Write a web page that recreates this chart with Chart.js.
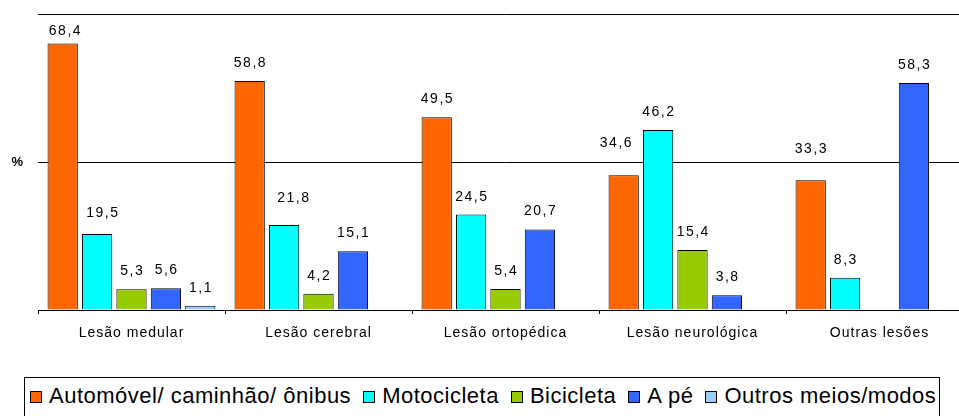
<!DOCTYPE html>
<html>
<head>
<meta charset="utf-8">
<script src="https://cdn.jsdelivr.net/npm/chart.js@4.4.0/dist/chart.umd.min.js"></script>
<style>
html,body{margin:0;padding:0;background:#fff;}
#wrap{position:relative;width:959px;height:416px;overflow:hidden;background:#fff;}
#c{position:absolute;left:0;top:0;}
#legend{position:absolute;left:24px;top:377px;width:916px;height:70px;box-sizing:border-box;border:1px solid #000;
  padding:5px 0 0 5px;display:flex;align-items:flex-start;flex-wrap:nowrap;
  font-family:"Liberation Sans",Arial,sans-serif;font-size:22px;letter-spacing:0.5px;line-height:25px;color:#000;}
#legend .item{display:flex;align-items:center;margin-right:12px;white-space:nowrap;height:25px;}
#legend .box{width:12px;height:12px;box-sizing:border-box;border:1px solid #000;margin-right:7px;margin-top:2px;}
</style>
</head>
<body>
<div id="wrap">
  <canvas id="c" width="973" height="345"></canvas>
  <div id="legend"></div>
</div>
<script>
// ---- data ----
const categories = ['Lesão medular', 'Lesão cerebral', 'Lesão ortopédica', 'Lesão neurológica', 'Outras lesões'];
const seriesNames = ['Automóvel/ caminhão/ ônibus', 'Motocicleta', 'Bicicleta', 'A pé', 'Outros meios/modos'];
const automovel   = [68.4, 58.8, 49.5, 34.6, 33.3];
const motocicleta = [19.5, 21.8, 24.5, 46.2, 8.3];
const bicicleta   = [5.3, 4.2, 5.4, 15.4, null];
const aPe         = [5.6, 15.1, 20.7, 3.8, 58.3];
const outros      = [1.1, null, null, null, null];
const yTicks      = [0, 38, 76];
const yTickLabels = ['', '%', ''];

// ---- styles ----
const seriesColors = ['#FF6600', '#00FFFF', '#99CC00', '#3366FF', '#99CCFF'];
const seriesValues = [automovel, motocicleta, bicicleta, aPe, outros];
const FONT = '"Liberation Sans", Arial, sans-serif';

// label nudges (dataset-index : [dx, dy]) to mimic hand-placed labels
const labelNudge = {'0-0': [2, 5], '1-0': [5, -3], '1-1': [9, -9], '0-3': [-8, -14], '0-4': [0, -13]};

const spacingPlugin = {
  id: 'spacing',
  beforeDraw(chart) { chart.ctx.letterSpacing = '1px'; }
};

const valueLabels = {
  id: 'valueLabels',
  afterDatasetsDraw(chart) {
    const ctx = chart.ctx;
    ctx.save();
    ctx.font = '14px ' + FONT;
    ctx.letterSpacing = '1.5px';
    ctx.fillStyle = '#000';
    ctx.textAlign = 'center';
    ctx.textBaseline = 'alphabetic';
    chart.data.datasets.forEach((ds, di) => {
      const meta = chart.getDatasetMeta(di);
      meta.data.forEach((bar, i) => {
        const v = ds.data[i];
        if (v === null || v === undefined) return;
        const n = labelNudge[di + '-' + i] || [0, 0];
        ctx.fillText(String(v).replace('.', ','), bar.x + n[0] + 0.75, bar.y - 14 + n[1]);
      });
    });
    ctx.restore();
  }
};

new Chart(document.getElementById('c'), {
  type: 'bar',
  data: {
    labels: categories,
    datasets: seriesNames.map((name, k) => ({
      label: name,
      data: seriesValues[k],
      backgroundColor: seriesColors[k],
      borderColor: '#000',
      borderWidth: 1,
      categoryPercentage: 0.92,
      barPercentage: 0.88
    }))
  },
  options: {
    responsive: false,
    animation: false,
    devicePixelRatio: 1,
    layout: {padding: {top: 14, left: 0, right: 0, bottom: 0}},
    plugins: {legend: {display: false}, tooltip: {enabled: false}},
    scales: {
      x: {
        grid: {display: true, drawOnChartArea: false, drawTicks: true, tickLength: 4, color: '#000', offset: true, lineWidth: 1},
        border: {display: true, color: '#000', width: 1},
        ticks: {color: '#000', font: {size: 14, family: FONT}, padding: 11, maxRotation: 0, autoSkip: false},
        afterFit(s) { s.height = 35; s.paddingLeft = 0; s.paddingRight = 0; }
      },
      y: {
        min: 0, max: 76,
        afterBuildTicks(s) { s.ticks = yTicks.map(v => ({value: v})); },
        ticks: {color: '#000', font: {size: 13, weight: 'bold', family: FONT}, padding: 14,
          callback: (v) => yTickLabels[yTicks.indexOf(v)]},
        grid: {color: '#000', drawTicks: false, lineWidth: 1},
        border: {display: false},
        afterFit(s) { s.width = 38; s.paddingTop = 0; s.paddingBottom = 0; }
      }
    }
  },
  plugins: [spacingPlugin, valueLabels]
});

// HTML legend built from the series names
const lg = document.getElementById('legend');
seriesNames.forEach((name, k) => {
  const it = document.createElement('div'); it.className = 'item';
  const b = document.createElement('span'); b.className = 'box'; b.style.background = seriesColors[k];
  const t = document.createElement('span'); t.textContent = name;
  it.appendChild(b); it.appendChild(t); lg.appendChild(it);
});
</script>
</body>
</html>
